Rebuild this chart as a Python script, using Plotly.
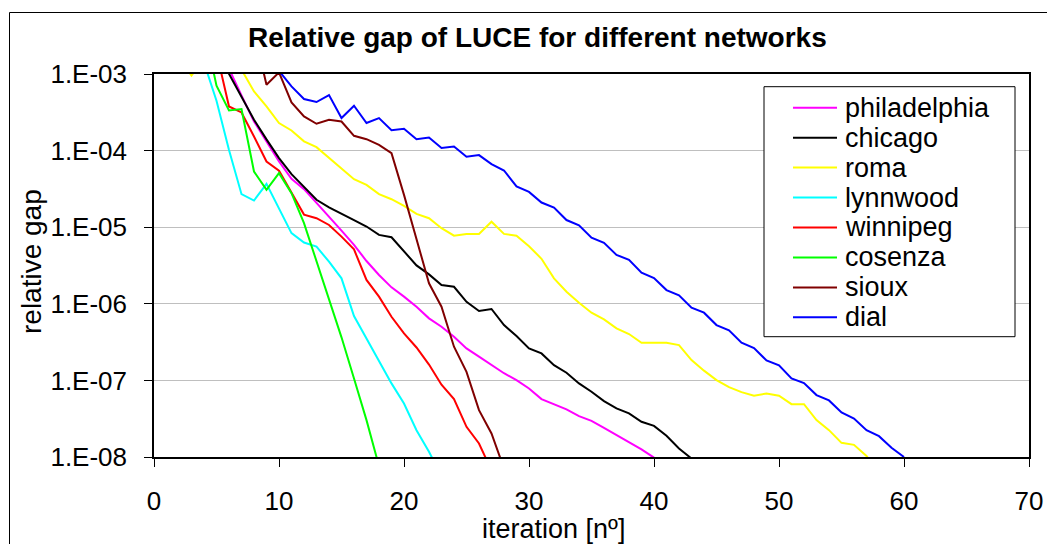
import plotly.graph_objects as go

# ---------------- data ----------------
series_names = ["philadelphia", "chicago", "roma", "lynnwood", "winnipeg", "cosenza", "sioux", "dial"]
series_colors = ["#FF00FF", "#000000", "#FFFF00", "#00FFFF", "#FF0000", "#00FF00", "#800000", "#0000FF"]

philadelphia_x = list(range(5, 41))
philadelphia_y = [2.0e-3, 1.17e-3, 5.25e-4, 2.40e-4, 1.32e-4, 7.24e-5, 4.28e-5, 3.14e-5, 2.08e-5, 1.38e-5,
                  9.04e-6, 5.87e-6, 3.62e-6, 2.38e-6, 1.64e-6, 1.24e-6, 9.16e-7, 6.46e-7, 5.02e-7, 3.72e-7,
                  2.62e-7, 2.04e-7, 1.58e-7, 1.24e-7, 1.01e-7, 7.85e-8, 5.70e-8, 4.90e-8, 4.18e-8, 3.41e-8,
                  2.96e-8, 2.40e-8, 1.93e-8, 1.57e-8, 1.26e-8, 9.8e-9]

chicago_x = list(range(5, 44))
chicago_y = [2.0e-3, 1.0e-3, 5.09e-4, 2.53e-4, 1.40e-4, 7.98e-5, 4.93e-5, 3.30e-5, 2.28e-5, 1.82e-5,
             1.52e-5, 1.24e-5, 1.02e-5, 7.93e-6, 7.40e-6, 4.80e-6, 3.17e-6, 2.42e-6, 1.76e-6, 1.67e-6,
             1.06e-6, 8.05e-7, 8.55e-7, 5.28e-7, 3.79e-7, 2.62e-7, 2.25e-7, 1.58e-7, 1.26e-7, 9.14e-8,
             7.10e-8, 5.36e-8, 4.31e-8, 3.71e-8, 2.88e-8, 2.55e-8, 1.89e-8, 1.29e-8, 9.55e-9]

roma_x = list(range(1, 59))
roma_y = [3.2e-3, 1.6e-3, 9.55e-4, 1.6e-3, 1.8e-3, 1.4e-3, 1.14e-3, 5.93e-4, 3.77e-4, 2.29e-4,
          1.83e-4, 1.32e-4, 1.11e-4, 7.98e-5, 5.90e-5, 4.24e-5, 3.57e-5, 2.70e-5, 2.32e-5, 1.90e-5,
          1.49e-5, 1.31e-5, 9.70e-6, 7.76e-6, 8.13e-6, 8.17e-6, 1.18e-5, 8.17e-6, 7.74e-6, 5.65e-6,
          3.87e-6, 2.15e-6, 1.44e-6, 1.03e-6, 7.66e-7, 6.27e-7, 4.79e-7, 4.03e-7, 3.10e-7, 3.10e-7,
          3.10e-7, 2.89e-7, 1.84e-7, 1.34e-7, 1.01e-7, 8.17e-8, 7.03e-8, 6.30e-8, 6.76e-8, 6.30e-8,
          4.90e-8, 4.90e-8, 3.03e-8, 2.24e-8, 1.53e-8, 1.44e-8, 1.03e-8, 6.3e-9]

lynnwood_x = list(range(3, 24))
lynnwood_y = [3.2e-3, 1.41e-3, 4.47e-4, 1.02e-4, 2.70e-5, 2.23e-5, 3.68e-5, 1.77e-5, 8.36e-6, 6.30e-6,
              5.57e-6, 3.55e-6, 2.15e-6, 6.92e-7, 3.54e-7, 1.84e-7, 9.14e-8, 5.00e-8, 2.24e-8, 1.17e-8,
              5.6e-9]

winnipeg_x = list(range(4, 28))
winnipeg_y = [5.0e-3, 1.92e-3, 3.77e-4, 3.15e-4, 1.53e-4, 7.21e-5, 5.45e-5, 2.78e-5, 1.46e-5, 1.31e-5,
              1.07e-5, 7.53e-6, 5.13e-6, 2.05e-6, 1.24e-6, 6.78e-7, 4.11e-7, 2.69e-7, 1.61e-7, 8.79e-8,
              5.70e-8, 2.48e-8, 1.50e-8, 6.67e-9]

cosenza_x = list(range(4, 19))
cosenza_y = [4.07e-3, 7.03e-4, 3.34e-4, 3.48e-4, 5.33e-5, 3.08e-5, 5.08e-5, 2.78e-5, 1.13e-5, 3.55e-6,
             1.15e-6, 3.65e-7, 1.06e-7, 3.03e-8, 7.59e-9]

sioux_x = list(range(8, 29))
sioux_y = [3.6e-3, 7.24e-4, 1.05e-3, 4.26e-4, 2.79e-4, 2.24e-4, 2.53e-4, 2.40e-4, 1.56e-4, 1.41e-4,
           1.19e-4, 9.27e-5, 2.64e-5, 7.18e-6, 1.85e-6, 9.16e-7, 2.75e-7, 1.29e-7, 4.09e-8, 2.03e-8,
           7.08e-9]

dial_x = list(range(10, 61))
dial_y = [1.10e-3, 6.89e-4, 4.71e-4, 4.31e-4, 5.31e-4, 2.66e-4, 3.85e-4, 2.29e-4, 2.66e-4, 1.85e-4,
          1.93e-4, 1.41e-4, 1.48e-4, 1.08e-4, 1.13e-4, 8.30e-5, 8.73e-5, 6.67e-5, 5.50e-5, 3.40e-5,
          2.89e-5, 2.10e-5, 1.80e-5, 1.24e-5, 1.06e-5, 7.31e-6, 6.24e-6, 4.35e-6, 3.74e-6, 2.55e-6,
          2.17e-6, 1.51e-6, 1.29e-6, 8.89e-7, 7.66e-7, 5.28e-7, 4.51e-7, 3.10e-7, 2.64e-7, 1.82e-7,
          1.57e-7, 1.06e-7, 9.23e-8, 6.43e-8, 5.48e-8, 3.82e-8, 3.18e-8, 2.24e-8, 1.87e-8, 1.32e-8,
          1.0e-8]

y_tickvals = [1e-3, 1e-4, 1e-5, 1e-6, 1e-7, 1e-8]
y_ticktext = ["1.E-03", "1.E-04", "1.E-05", "1.E-06", "1.E-07", "1.E-08"]
x_tickvals = [0, 10, 20, 30, 40, 50, 60, 70]

title_text = "Relative gap of LUCE for different networks"
x_title = "iteration [nº]"
y_title = "relative gap"

# ---------------- figure ----------------
FONT = "Liberation Sans, Arial, sans-serif"
W, H = 1047, 544
PL, PR, PT, PB = 154, 1029, 74, 457

def px2x(px):
    return (px - PL) / (PR - PL)

def py2y(py):
    return (PB - py) / (PB - PT)

xs = [philadelphia_x, chicago_x, roma_x, lynnwood_x, winnipeg_x, cosenza_x, sioux_x, dial_x]
ys = [philadelphia_y, chicago_y, roma_y, lynnwood_y, winnipeg_y, cosenza_y, sioux_y, dial_y]

fig = go.Figure()
for name, color, x, y in zip(series_names, series_colors, xs, ys):
    fig.add_trace(go.Scatter(x=x, y=y, mode="lines", name=name,
                             line=dict(color=color, width=2), showlegend=False))

fig.update_layout(
    width=W, height=H,
    margin=dict(l=PL, r=W - PR, t=PT, b=H - PB, autoexpand=False),
    paper_bgcolor="white", plot_bgcolor="white",
    font=dict(family=FONT, size=26, color="black"),
    showlegend=False,
)
fig.update_xaxes(range=[0, 70], tickvals=x_tickvals, showgrid=False, zeroline=False,
                 ticks="outside", ticklen=8, tickwidth=1, tickcolor="black",
                 showline=True, linecolor="black", linewidth=1.5, mirror=True,
                 automargin=False,
                 tickfont=dict(family=FONT, size=26), ticklabelstandoff=12)
fig.update_yaxes(type="log", range=[-8, -3], tickvals=y_tickvals, ticktext=y_ticktext,
                 showgrid=True, gridcolor="#BFBFBF", gridwidth=1, zeroline=False,
                 ticks="outside", ticklen=8, tickwidth=1, tickcolor="black",
                 showline=True, linecolor="black", linewidth=1.5, mirror=True,
                 automargin=False,
                 tickfont=dict(family=FONT, size=26), ticklabelstandoff=12)

shapes = []
# outer chart frame
shapes.append(dict(type="rect", xref="paper", yref="paper", x0=px2x(9.5), x1=px2x(1080),
                   y0=py2y(580), y1=py2y(12.5), line=dict(color="black", width=1), layer="below"))
# legend box
shapes.append(dict(type="rect", xref="paper", yref="paper", x0=px2x(764), x1=px2x(1015),
                   y0=py2y(336.7), y1=py2y(86.7), fillcolor="white",
                   line=dict(color="black", width=1), layer="above"))
annotations = []
leg_y0, leg_step = 107.7, 29.95
for i, (name, color) in enumerate(zip(series_names, series_colors)):
    yy = py2y(leg_y0 + i * leg_step)
    shapes.append(dict(type="line", xref="paper", yref="paper", x0=px2x(793), x1=px2x(837),
                       y0=yy, y1=yy, line=dict(color=color, width=2), layer="above"))
    annotations.append(dict(xref="paper", yref="paper", x=px2x(843), y=yy, text=name,
                            showarrow=False, xanchor="left", yanchor="middle",
                            font=dict(family=FONT, size=27, color="black")))

annotations.append(dict(xref="paper", yref="paper", x=px2x(537), y=py2y(37),
                        text="<b>" + title_text + "</b>", showarrow=False,
                        xanchor="center", yanchor="middle",
                        font=dict(family=FONT, size=28, color="black")))
annotations.append(dict(xref="paper", yref="paper", x=px2x(553), y=py2y(529), text=x_title,
                        showarrow=False, xanchor="center", yanchor="middle",
                        font=dict(family=FONT, size=27, color="black")))
annotations.append(dict(xref="paper", yref="paper", x=px2x(31), y=py2y(262), text=y_title,
                        showarrow=False, xanchor="center", yanchor="middle", textangle=-90,
                        font=dict(family=FONT, size=28, color="black")))

fig.update_layout(shapes=shapes, annotations=annotations)
fig.write_html("out.html")
